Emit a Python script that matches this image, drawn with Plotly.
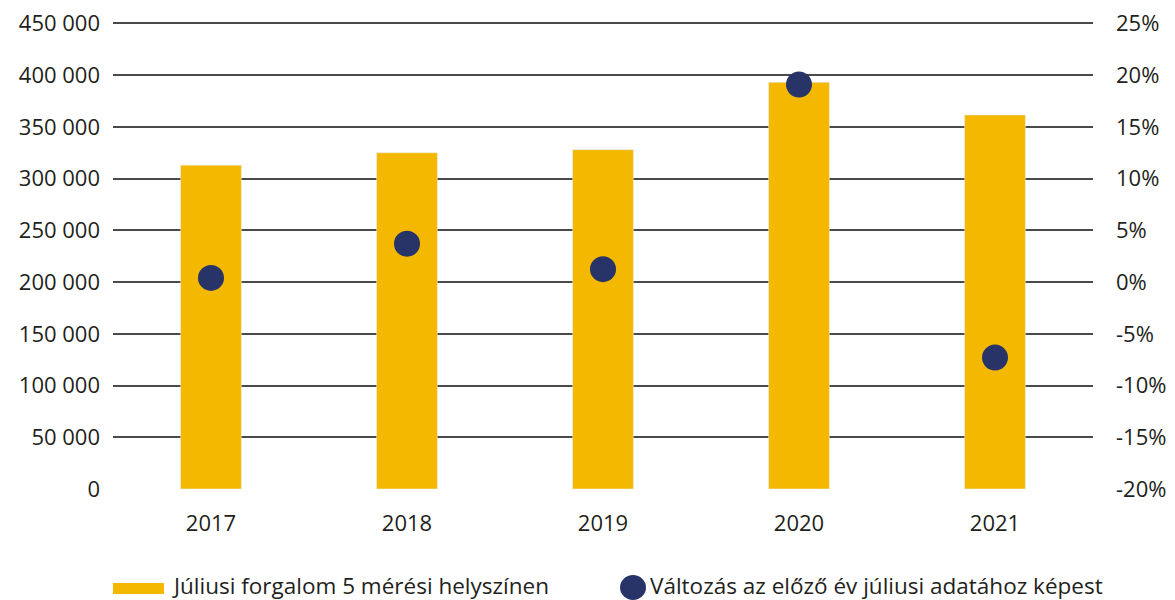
import plotly.graph_objects as go

years = ["2017", "2018", "2019", "2020", "2021"]
traffic = [313000, 325000, 328000, 393000, 361500]
change_pct = [0.4, 3.7, 1.25, 19.1, -7.3]

left_ticks = [0, 50000, 100000, 150000, 200000, 250000, 300000, 350000, 400000, 450000]
left_labels = ["0", "50 000", "100 000", "150 000", "200 000", "250 000", "300 000", "350 000", "400 000", "450 000"]
right_ticks = [-20, -15, -10, -5, 0, 5, 10, 15, 20, 25]
right_labels = ["-20%", "-15%", "-10%", "-5%", "0%", "5%", "10%", "15%", "20%", "25%"]

legend_bar = "Júliusi forgalom 5 mérési helyszínen"
legend_dot = "Változás az előző év júliusi adatához képest"

BAR = "#F5B800"
DOT = "#283368"
FONT = "Open Sans"
TXT = "#231F20"

EPS = 1.003  # tiny headroom so the top gridline is drawn

fig = go.Figure()
fig.add_trace(go.Bar(x=years, y=traffic, marker_color=BAR, width=0.31,
                     name=legend_bar, yaxis="y"))
fig.add_trace(go.Scatter(x=years, y=change_pct, mode="markers",
                         marker=dict(color=DOT, size=26), name=legend_dot, yaxis="y2"))

fig.update_layout(
    width=1167, height=592,
    margin=dict(l=105, r=82, t=14, b=111),
    plot_bgcolor="white", paper_bgcolor="white",
    showlegend=False,
    font=dict(family=FONT, size=22, color=TXT),
    xaxis=dict(type="category", showgrid=False, showline=False, ticks="",
               automargin=False,
               ticklabelstandoff=19, tickfont=dict(size=22, color=TXT)),
    yaxis=dict(range=[0, 450000 * EPS], tickvals=left_ticks, ticktext=left_labels,
               showgrid=True, gridcolor="#4a4a4a", gridwidth=1.5,
               zeroline=False, showline=False, ticks="", ticklabelstandoff=12,
               ticklabeloverflow="allow", automargin=False,
               tickfont=dict(size=22, color=TXT)),
    yaxis2=dict(range=[-20, -20 + 45 * EPS], tickvals=right_ticks, ticktext=right_labels,
                overlaying="y", side="right", showgrid=False, zeroline=False,
                showline=False, ticks="", ticklabelstandoff=22,
                ticklabeloverflow="allow", automargin=False,
                tickfont=dict(size=22, color=TXT)),
)

# custom legend (paper coords relative to plot area: x0=113px, width 980px; y0=489px, height ~467px)
H = 467.0
fig.add_shape(type="rect", xref="paper", yref="paper",
              x0=0, x1=51/980, y0=-(594-489)/H, y1=-(583-489)/H,
              fillcolor=BAR, line_width=0)
fig.add_annotation(xref="paper", yref="paper", x=(170-113)/980, y=-(585-489)/H,
                   text=legend_bar, showarrow=False, xanchor="left", yanchor="middle",
                   font=dict(size=22.5, color=TXT, family=FONT))
fig.add_shape(type="circle", xref="paper", yref="paper",
              x0=(620-113)/980, x1=(646-113)/980,
              y0=-(600-489)/H, y1=-(575-489)/H,
              fillcolor=DOT, line_width=0)
fig.add_annotation(xref="paper", yref="paper", x=(648-113)/980, y=-(585-489)/H,
                   text=legend_dot, showarrow=False, xanchor="left", yanchor="middle",
                   font=dict(size=22.5, color=TXT, family=FONT))

fig.write_html("out.html")
